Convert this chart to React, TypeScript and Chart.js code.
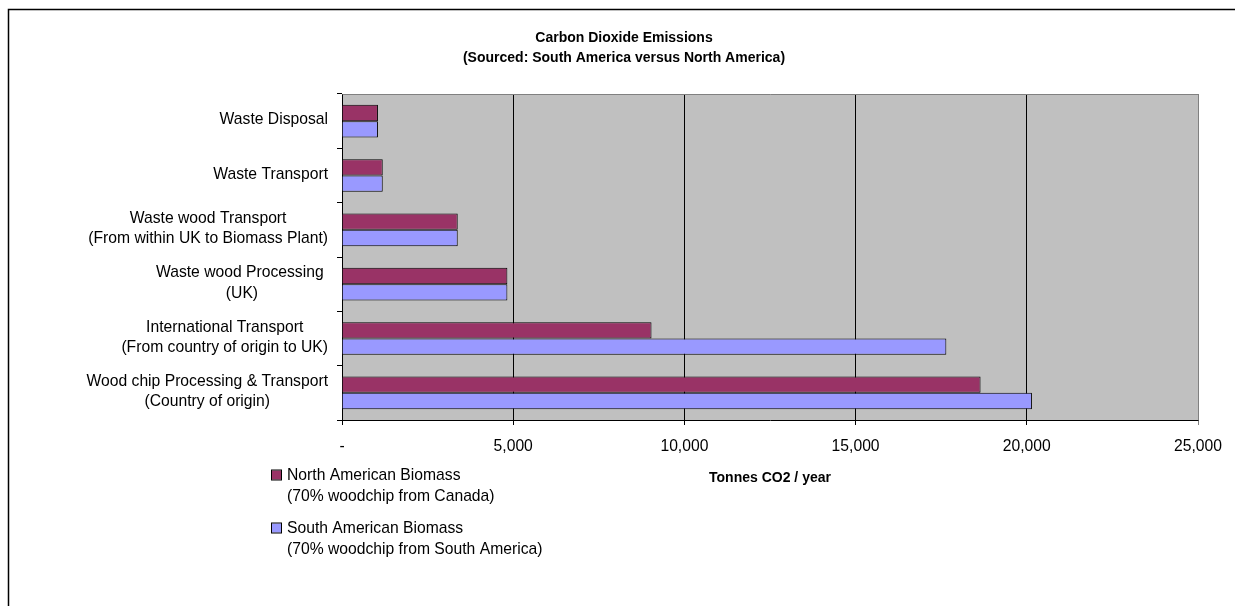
import React, { useEffect, useRef } from 'react';
import { Chart, registerables } from 'chart.js';

Chart.register(...registerables);

// Category labels (one entry per text line), top to bottom
const categories: string[][] = [
  ['Waste Disposal'],
  ['Waste Transport'],
  ['Waste wood Transport', '(From within UK to Biomass Plant)'],
  ['Waste wood Processing ', '(UK)'],
  ['International Transport', '(From country of origin to UK)'],
  ['Wood chip Processing & Transport', '(Country of origin)'],
];

// Tonnes CO2 per year
const northAmerican = [1050, 1190, 3380, 4830, 9040, 18650];
const southAmerican = [1050, 1190, 3380, 4830, 17650, 20150];

const seriesNames = ['North American Biomass', 'South American Biomass'];
const seriesNotes = ['(70% woodchip from Canada)', '(70% woodchip from South America)'];
const seriesColors = ['#993366', '#9999FF'];

const xTicks = [0, 5000, 10000, 15000, 20000, 25000];
const titleLines = ['Carbon Dioxide Emissions', '(Sourced: South America versus North America)'];
const xAxisTitle = 'Tonnes CO2 / year';

const FONT = "'Liberation Sans', Arial, sans-serif";
const W = 1235;
const H = 606;

const decorPlugin = {
  id: 'decor',
  beforeDraw(chart: any) {
    const { ctx, chartArea } = chart;
    ctx.save();
    ctx.fillStyle = '#C0C0C0';
    ctx.fillRect(chartArea.left, chartArea.top, chartArea.right - chartArea.left, chartArea.bottom - chartArea.top);
    ctx.restore();
  },
  afterDraw(chart: any) {
    const { ctx, chartArea, scales } = chart;
    ctx.save();

    // outer frame
    ctx.strokeStyle = '#000';
    ctx.lineWidth = 1.5;
    ctx.beginPath();
    ctx.moveTo(8.5, H + 2);
    ctx.lineTo(8.5, 9.5);
    ctx.lineTo(W + 2, 9.5);
    ctx.stroke();

    // plot area top and right edges
    ctx.strokeStyle = '#808080';
    ctx.lineWidth = 1;
    ctx.beginPath();
    ctx.moveTo(Math.round(chartArea.left) + 0.5, Math.round(chartArea.top) + 0.5);
    ctx.lineTo(Math.round(chartArea.right) + 0.5, Math.round(chartArea.top) + 0.5);
    ctx.lineTo(Math.round(chartArea.right) + 0.5, Math.round(chartArea.bottom) + 0.5);
    ctx.stroke();

    // title
    ctx.fillStyle = '#000';
    ctx.textAlign = 'center';
    ctx.textBaseline = 'middle';
    ctx.font = `bold 14px ${FONT}`;
    titleLines.forEach((line, i) => ctx.fillText(line, 624, 38.5 + i * 20));

    // x axis title
    ctx.fillText(xAxisTitle, (chartArea.left + chartArea.right) / 2, 478);

    // category labels: block right-aligned, lines centred within the block
    ctx.font = `15.7px ${FONT}`;
    const yScale = scales.y;
    const rightEdge = chartArea.left - 14;
    const lh = 20.5;
    categories.forEach((lines, idx) => {
      const maxW = Math.max(...lines.map((l) => ctx.measureText(l).width));
      const cx = rightEdge - maxW / 2;
      const cy = yScale.getPixelForValue(idx) - 1;
      lines.forEach((l, i) => {
        ctx.fillText(l, cx, cy + (i - (lines.length - 1) / 2) * lh);
      });
    });

    // legend
    ctx.textAlign = 'left';
    const legendTop = [475.5, 528.5];
    seriesNames.forEach((name, i) => {
      const y = legendTop[i];
      ctx.fillStyle = seriesColors[i];
      ctx.fillRect(272, y - 5, 9, 9);
      ctx.strokeStyle = '#000';
      ctx.lineWidth = 1;
      ctx.strokeRect(271.5, y - 5.5, 10, 10);
      ctx.fillStyle = '#000';
      ctx.fillText(name, 287, y);
      ctx.fillText(seriesNotes[i], 287, y + 21);
    });

    ctx.restore();
  },
};

export default function App() {
  const canvasRef = useRef<HTMLCanvasElement | null>(null);

  useEffect(() => {
    const canvas = canvasRef.current;
    if (!canvas) return;
    const chart = new Chart(canvas, {
      type: 'bar',
      data: {
        labels: categories,
        datasets: [
          {
            label: seriesNames[0],
            data: northAmerican,
            backgroundColor: seriesColors[0],
            borderColor: '#000',
            borderWidth: 1,
            categoryPercentage: 0.6,
            barPercentage: 1,
          },
          {
            label: seriesNames[1],
            data: southAmerican,
            backgroundColor: seriesColors[1],
            borderColor: '#000',
            borderWidth: 1,
            categoryPercentage: 0.6,
            barPercentage: 1,
          },
        ],
      },
      options: {
        indexAxis: 'y',
        responsive: false,
        animation: false,
        devicePixelRatio: 1,
        layout: { padding: { left: 0, right: W - 1198, top: 94, bottom: 0 } },
        plugins: {
          legend: { display: false },
          title: { display: false },
          tooltip: { enabled: false },
        },
        scales: {
          x: {
            type: 'linear',
            min: 0,
            max: 25000,
            afterBuildTicks: (scale: any) => {
              scale.ticks = xTicks.map((v) => ({ value: v }));
            },
            afterFit: (scale: any) => {
              scale.height = H - 420;
            },
            border: { color: '#000', width: 1 },
            grid: {
              color: (c: any) => (c.index === xTicks.length - 1 ? '#808080' : '#000'),
              lineWidth: 1,
              tickLength: 5,
              drawTicks: true,
            },
            ticks: {
              color: '#000',
              padding: 12,
              maxRotation: 0,
              font: { family: FONT, size: 15.7 },
              callback: (v: any) => (Number(v) === 0 ? '-' : Number(v).toLocaleString('en-US')),
            },
          },
          y: {
            type: 'category',
            afterFit: (scale: any) => {
              scale.width = 342;
            },
            border: { color: '#000', width: 1 },
            grid: {
              display: true,
              drawOnChartArea: false,
              drawTicks: true,
              tickLength: 5,
              color: '#000',
              offset: true,
            },
            ticks: { display: false },
          },
        },
      },
      plugins: [decorPlugin],
    } as any);
    return () => chart.destroy();
  }, []);

  return (
    <div style={{ position: 'absolute', left: 0, top: 0, width: W, height: H, background: '#fff' }}>
      <canvas ref={canvasRef} width={W} height={H} style={{ display: 'block', width: W, height: H }} />
    </div>
  );
}
